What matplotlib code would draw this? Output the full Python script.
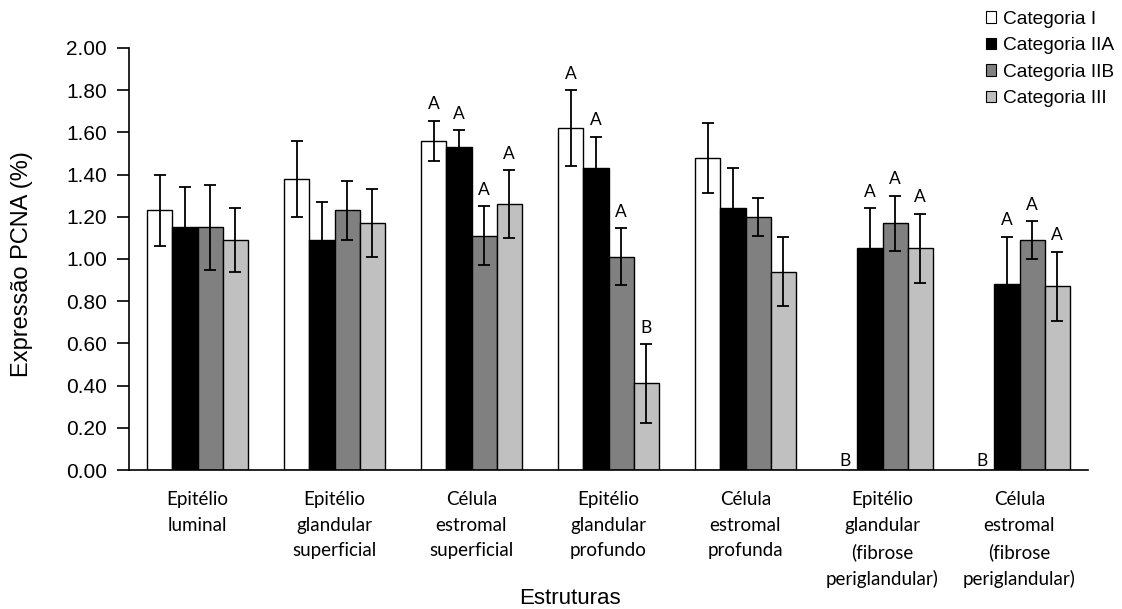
import numpy as np
import matplotlib
matplotlib.use("Agg")
import matplotlib.pyplot as plt
from matplotlib.patches import Patch

# estruturas (categorias do eixo x)
estruturas = ["Epitélio\nluminal",
              "Epitélio\nglandular\nsuperficial",
              "Célula\nestromal\nsuperficial",
              "Epitélio\nglandular\nprofundo",
              "Célula\nestromal\nprofunda",
              "Epitélio\nglandular\n(fibrose\nperiglandular)",
              "Célula\nestromal\n(fibrose\nperiglandular)"]

series_nomes = ["Categoria I", "Categoria IIA", "Categoria IIB", "Categoria III"]

# medias e erros
cat_I = [1.23, 1.38, 1.56, 1.62, 1.48, 0.0, 0.0]
err_I = [0.17, 0.18, 0.095, 0.18, 0.165, 0.0, 0.0]
cat_IIA = [1.15, 1.09, 1.53, 1.43, 1.24, 1.05, 0.88]
err_IIA = [0.19, 0.18, 0.08, 0.15, 0.19, 0.19, 0.225]
cat_IIB = [1.15, 1.23, 1.11, 1.01, 1.20, 1.17, 1.09]
err_IIB = [0.20, 0.14, 0.14, 0.135, 0.09, 0.13, 0.09]
cat_III = [1.09, 1.17, 1.26, 0.41, 0.94, 1.05, 0.87]
err_III = [0.15, 0.16, 0.16, 0.185, 0.165, 0.165, 0.165]

# letras de significancia ("" = sem letra)
letras_I = ["", "", "A", "A", "", "B", "B"]
letras_IIA = ["", "", "A", "A", "", "A", "A"]
letras_IIB = ["", "", "A", "A", "", "A", "A"]
letras_III = ["", "", "A", "B", "", "A", "A"]

medias = [cat_I, cat_IIA, cat_IIB, cat_III]
erros = [err_I, err_IIA, err_IIB, err_III]
letras = [letras_I, letras_IIA, letras_IIB, letras_III]
cores = ["white", "black", "#808080", "#c0c0c0"]

fig = plt.figure(figsize=(11.22, 6.09), dpi=100)
ax = fig.add_axes([129/1122, 1 - 470/609, (1088 - 129)/1122, 422/609])

x = np.arange(len(estruturas))
w = 0.183
for i in range(4):
    pos = x + (i - 1.5) * w
    m = np.array(medias[i])
    e = np.array(erros[i])
    ax.bar(pos, m, width=w, color=cores[i], edgecolor="black", linewidth=1.0,
           zorder=2)
    ok = e > 0
    ax.errorbar(pos[ok], m[ok], yerr=e[ok], fmt="none", ecolor="black",
                elinewidth=1.3, capsize=4.5, capthick=1.3, zorder=3)
    for j in range(len(x)):
        if letras[i][j]:
            y = m[j] + e[j] + 0.04 if m[j] > 0 else 0.005
            ax.text(pos[j], y, letras[i][j], ha="center", va="bottom",
                    fontsize=12.5, family="Lato")

ax.set_xlim(-0.5, 6.5)
ax.set_ylim(0, 2.0)
ax.set_yticks(np.arange(0, 2.01, 0.2))
ax.set_yticklabels([f"{v:.2f}" for v in np.arange(0, 2.01, 0.2)],
                   family="Liberation Sans", fontsize=15)
ax.set_xticks(x)
ax.set_xticklabels(estruturas, family="Lato", fontsize=13.5, linespacing=1.62,
                   va="top")
ax.tick_params(axis="x", length=0, pad=15)
ax.tick_params(axis="y", direction="out", length=9, width=1.2, pad=7)
for s in ["top", "right"]:
    ax.spines[s].set_visible(False)
ax.spines["left"].set_linewidth(1.2)
ax.spines["bottom"].set_linewidth(1.2)

fig.text(22/1122, 1 - 264/609, "Expressão PCNA (%)", rotation=90,
         ha="center", va="center", family="Liberation Sans", fontsize=17)
fig.text(570/1122, 1 - 598/609, "Estruturas", ha="center", va="center",
         family="Liberation Sans", fontsize=16)

handles = [Patch(facecolor=c, edgecolor="black", linewidth=0.8) for c in cores]
fig.legend(handles, series_nomes, loc="upper left",
           bbox_to_anchor=(978/1122, 1 - 3/609), frameon=False,
           prop={"family": "Liberation Sans", "size": 13.8},
           handlelength=0.55, handleheight=0.55, handletextpad=0.35,
           labelspacing=0.5, borderaxespad=0)

fig.savefig("out.png", dpi=100)
